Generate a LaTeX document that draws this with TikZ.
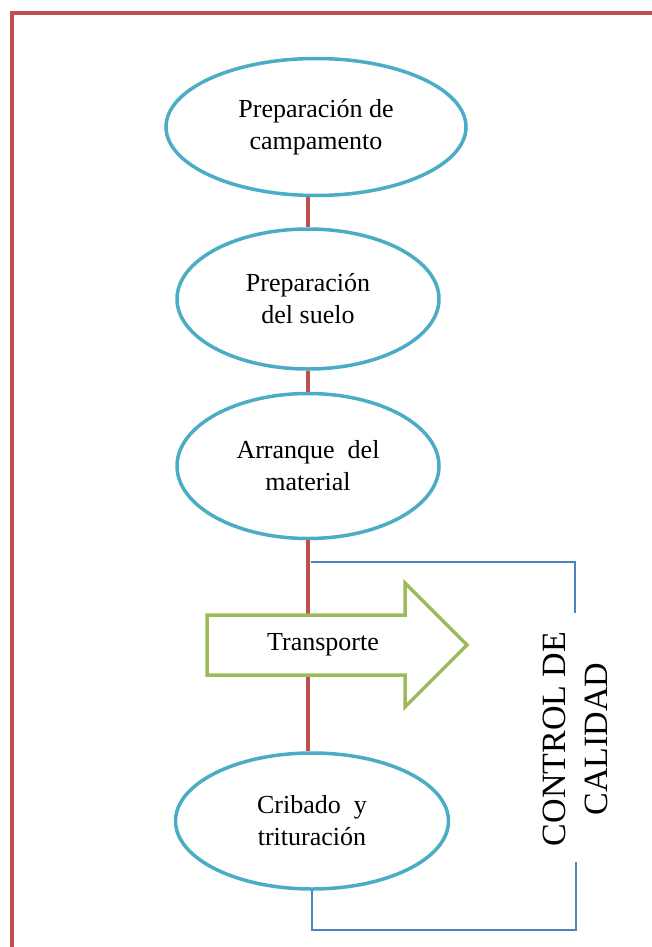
\documentclass[tikz,border=0pt]{standalone}
\usepackage{fontspec}
\setmainfont{Liberation Serif}
\usetikzlibrary{shapes.geometric}
\definecolor{framered}{HTML}{C0504D}
\definecolor{stepaqua}{HTML}{4BACC6}
\definecolor{arrowgreen}{HTML}{9BBB59}
\definecolor{checkblue}{HTML}{4F81BD}
\tikzset{
  stepnode/.style={ellipse, draw=stepaqua, line width=3.5pt, fill=white, align=center,
    font=\fontsize{26}{32}\selectfont},
  spine/.style={draw=framered, line width=3.5pt},
  bracket/.style={draw=checkblue, line width=1.8pt},
}
\begin{document}
\begin{tikzpicture}[x=1pt,y=-1pt]
\useasboundingbox (0,0) rectangle (652,947);
\draw[framered, line width=3.5pt] (12,947) -- (12,13) -- (652,13);
\node[stepnode, minimum width=300pt, minimum height=137pt] (prep1) at (316,127) {Preparación de\\campamento};
\node[stepnode, minimum width=262pt, minimum height=140pt] (prep2) at (308,299) {Preparación\\del suelo};
\node[stepnode, minimum width=262pt, minimum height=145pt] (arr) at (308,466) {Arranque\ \ del\\material};
\node[stepnode, minimum width=273pt, minimum height=136pt] (crib) at (312,821) {Cribado\ \ y\\trituración};
\draw[spine] (prep1.south -| prep2.north) -- (prep2.north);
\draw[spine] (prep2) -- (arr);
\draw[spine] (arr.south) -- (crib.north -| arr.south);
\coordinate (tr1) at (207,615);
\coordinate (tr2) at (405,615);
\coordinate (tr3) at (405,583);
\coordinate (tr4) at (467,645);
\coordinate (tr5) at (405,707);
\coordinate (tr6) at (405,675);
\coordinate (tr7) at (207,675);
\draw[arrowgreen, line width=3.5pt, fill=white] (tr1) -- (tr2) -- (tr3) -- (tr4) -- (tr5) -- (tr6) -- (tr7) -- cycle;
\node[font=\fontsize{26}{32}\selectfont] (trans) at (323,645) {Transporte};
\coordinate (q1) at (311,562);
\coordinate (q2) at (575,562);
\coordinate (q3) at (575,613);
\draw[bracket] (q1) -- (q2) -- (q3);
\coordinate (q4) at (312,930);
\coordinate (q5) at (576,930);
\coordinate (q6) at (576,862);
\draw[bracket] (crib.south) -- (q4) -- (q5) -- (q6);
\node[rotate=90, align=center, font=\fontsize{34}{42}\selectfont] (control) at (575,739) {CONTROL DE\\CALIDAD};
\end{tikzpicture}
\end{document}
